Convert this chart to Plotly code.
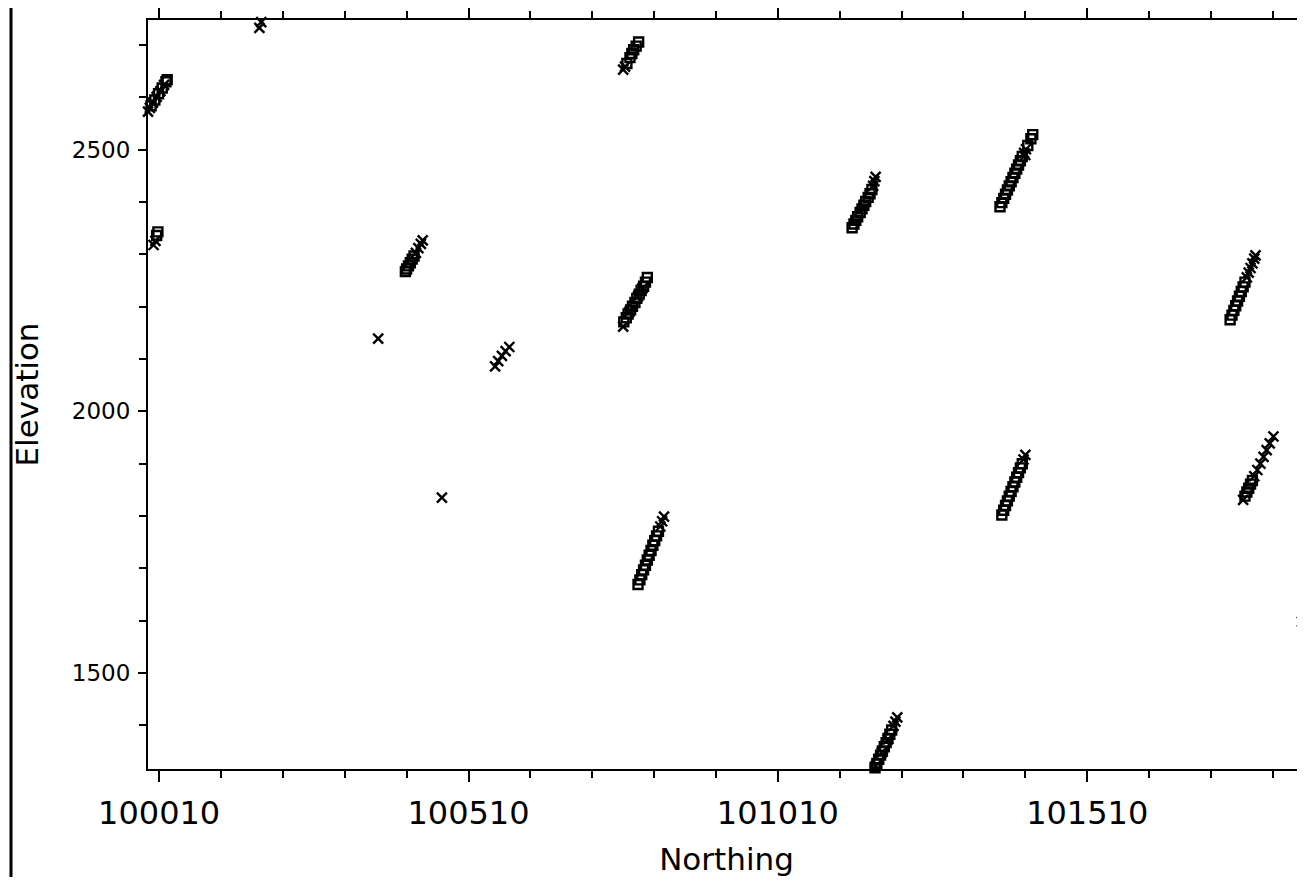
import plotly.graph_objects as go

# 'x' symbol samples (Northing, Elevation)
x_north = [
    99992, 99995, 100000, 100006, 100012, 100018,
    100001, 100004,
    100172, 100175,
    100425, 100429, 100433, 100436,
    100364,
    100467,
    100553, 100558, 100564, 100570, 100576,
    100760, 100763,
    100760, 100770, 100784, 100791,
    100820, 100823, 100826,
    101164, 101166, 101168,
    101408, 101411, 101410,
    101768, 101771, 101774, 101777, 101780, 101782,
    101407, 101410,
    101762, 101780, 101785, 101790, 101795, 101800, 101805, 101811,
    101857,
    101168, 101178, 101188, 101197, 101200, 101203,
]
x_elev = [
    2573, 2580, 2590, 2601, 2612, 2624,
    2318, 2326,
    2733, 2744,
    2303, 2312, 2320, 2327,
    2139,
    1835,
    2086, 2096, 2106, 2115, 2123,
    2653, 2659,
    2162, 2190, 2220, 2235,
    1780, 1790, 1799,
    2431, 2440, 2448,
    2494, 2501, 2490,
    2256, 2265, 2274, 2283, 2292, 2298,
    1908, 1917,
    1831, 1876, 1888, 1900, 1913, 1926, 1939, 1952,
    1598,
    1322, 1348, 1373, 1399, 1407, 1415,
]

# square symbol samples (Northing, Elevation)
sq_north = [
    99997, 100003, 100009, 100015, 100021, 100023,
    100008, 100006,
    100408, 100410, 100413, 100416, 100419, 100422,
    100766, 100771, 100774, 100777, 100781, 100785,
    100761, 100765, 100768, 100772, 100775, 100779, 100782, 100786, 100789, 100793, 100796, 100799,
    100784, 100787, 100790, 100793, 100796, 100799, 100802, 100805, 100808, 100811, 100814, 100817,
    101130, 101133, 101136, 101139, 101143, 101146, 101149, 101152, 101156, 101159, 101162,
    101369, 101372, 101375, 101378, 101381, 101384, 101387, 101390, 101393, 101396, 101399, 101402, 101405, 101414, 101419, 101422,
    101741, 101744, 101747, 101750, 101753, 101756, 101759, 101762, 101765,
    101372, 101375, 101378, 101381, 101384, 101387, 101390, 101393, 101396, 101399, 101402, 101405,
    101765, 101768, 101771, 101774, 101777,
    101164, 101167, 101170, 101173, 101176, 101179, 101182, 101185, 101188, 101191, 101194,
]
sq_elev = [
    2584, 2595, 2607, 2618, 2630, 2634,
    2343, 2336,
    2267, 2272, 2278, 2284, 2291, 2297,
    2665, 2676, 2684, 2691, 2698, 2706,
    2171, 2179, 2186, 2194, 2201, 2208, 2216, 2224, 2231, 2239, 2247, 2256,
    1669, 1678, 1688, 1697, 1706, 1716, 1725, 1734, 1744, 1753, 1762, 1771,
    2351, 2358, 2365, 2372, 2380, 2387, 2394, 2401, 2409, 2416, 2424,
    2391, 2399, 2407, 2415, 2423, 2431, 2439, 2447, 2455, 2463, 2471, 2479, 2487, 2508, 2521, 2529,
    2175, 2184, 2193, 2202, 2211, 2220, 2229, 2238, 2247,
    1802, 1811, 1820, 1829, 1838, 1847, 1856, 1865, 1874, 1883, 1892, 1900,
    1838, 1846, 1853, 1861, 1868,
    1311, 1319, 1327, 1335, 1343, 1351, 1359, 1367, 1375, 1383, 1391,
]

x_range = [99992, 101862]
y_range = [1316.5, 2748]

FONT = "DejaVu Sans"

fig = go.Figure()
fig.add_trace(go.Scatter(
    x=sq_north, y=sq_elev, mode="markers", cliponaxis=False, showlegend=False,
    marker=dict(symbol="square-open", size=9, color="black",
                line=dict(color="black", width=2.4)),
))
fig.add_trace(go.Scatter(
    x=x_north, y=x_elev, mode="markers", cliponaxis=False, showlegend=False,
    marker=dict(symbol="x-thin", size=10, color="black",
                line=dict(color="black", width=2.4)),
))

fig.update_layout(
    width=1297, height=869,
    margin=dict(l=140, r=0, t=12, b=108),
    paper_bgcolor="white", plot_bgcolor="white",
    font=dict(family=FONT, color="black"),
    xaxis=dict(
        range=x_range, tick0=100010, dtick=500, tickformat="d",
        exponentformat="none", automargin=False,
        ticks="outside", ticklen=11, tickwidth=2, tickcolor="black",
        showline=True, linewidth=2, linecolor="black", mirror="ticks",
        showgrid=False, zeroline=False,
        tickfont=dict(size=32, family=FONT),
        ticklabelstandoff=4,
        minor=dict(tick0=100010, dtick=100, ticks="outside", ticklen=7,
                   tickwidth=2, tickcolor="black", showgrid=False),
        title=dict(text="Northing", font=dict(size=31, family=FONT), standoff=20),
    ),
    yaxis=dict(
        range=y_range, tick0=0, dtick=500, automargin=False,
        ticks="outside", ticklen=8, tickwidth=2, tickcolor="black",
        showline=True, linewidth=2, linecolor="black",
        showgrid=False, zeroline=False,
        tickfont=dict(size=23, family=FONT),
        ticklabelstandoff=3,
        minor=dict(tick0=0, dtick=100, ticks="outside", ticklen=7,
                   tickwidth=2, tickcolor="black", showgrid=False),
        title=dict(text="Elevation", font=dict(size=31, family=FONT), standoff=24),
    ),
    shapes=[dict(type="line", xref="paper", yref="paper",
                 x0=-0.1184, x1=-0.1184, y0=-0.16, y1=1.03,
                 line=dict(color="black", width=3))],
)

fig.write_html("out.html")
